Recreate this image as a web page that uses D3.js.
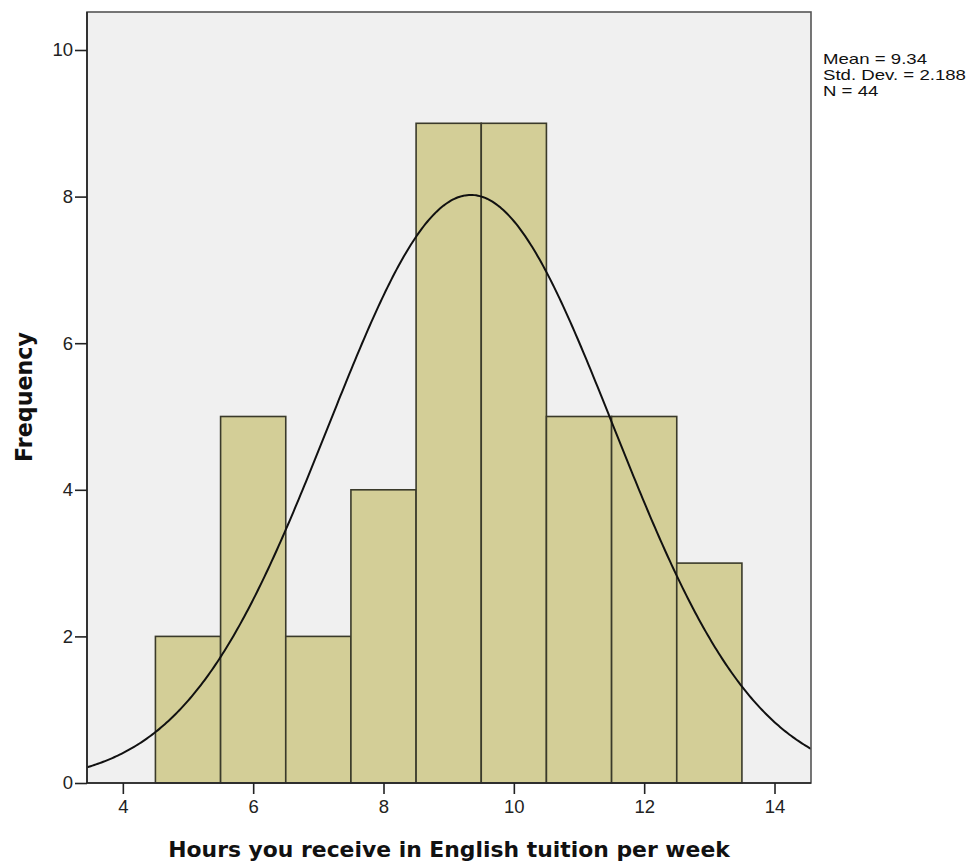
<!DOCTYPE html>
<html><head><meta charset="utf-8">
<script src="https://cdn.jsdelivr.net/npm/d3@7"></script>
<style>body{margin:0;background:#fff}svg{display:block}text{font-family:"Liberation Sans",Arial,sans-serif}</style>
</head><body>
<svg id="c" width="972" height="864"></svg>
<script>
const binStarts = [4.5,5.5,6.5,7.5,8.5,9.5,10.5,11.5,12.5];
const binWidth = 1;
const frequencies = [2,5,2,4,9,9,5,5,3];
const xTicks = [4,6,8,10,12,14];
const yTicks = [0,2,4,6,8,10];
const stats = {mean:9.34, sd:2.188, n:44};
const statLines = ["Mean = 9.34","Std. Dev. = 2.188","N = 44"];

const svg = d3.select("#c");
const L=87, R=811, T=12, B=783;
const x = d3.scaleLinear().domain([3.45,14.56]).range([L,R]);
const y = d3.scaleLinear().domain([0,10]).range([B,50]);

svg.append("rect").attr("x",L).attr("y",T).attr("width",R-L).attr("height",B-T).attr("fill","#f0f0f0");

svg.append("g").selectAll("rect").data(frequencies).join("rect")
  .attr("x",(d,i)=>x(binStarts[i])).attr("width",(d,i)=>x(binStarts[i]+binWidth)-x(binStarts[i]))
  .attr("y",d=>y(d)).attr("height",d=>y(0)-y(d))
  .attr("fill","#d3ce97").attr("stroke","#3a3a2a").attr("stroke-width",1.6);

// normal curve
svg.append("clipPath").attr("id","clip").append("rect").attr("x",L).attr("y",T).attr("width",R-L).attr("height",B-T);
const pdf = v => stats.n*binWidth/(stats.sd*Math.sqrt(2*Math.PI))*Math.exp(-0.5*((v-stats.mean)/stats.sd)**2);
const pts = d3.range(0,401).map(i=>{const v=3.45+(14.56-3.45)*i/400; return [v,pdf(v)];});
svg.append("path").attr("clip-path","url(#clip)").attr("d",d3.line().x(d=>x(d[0])).y(d=>y(d[1]))(pts))
  .attr("fill","none").attr("stroke","#111").attr("stroke-width",2);

// frame
svg.append("rect").attr("x",L).attr("y",T).attr("width",R-L).attr("height",B-T).attr("fill","none").attr("stroke","#555").attr("stroke-width",1.6);
svg.append("line").attr("x1",L).attr("x2",L).attr("y1",T).attr("y2",B).attr("stroke","#222").attr("stroke-width",1.6);
svg.append("line").attr("x1",L).attr("x2",R).attr("y1",B).attr("y2",B).attr("stroke","#222").attr("stroke-width",1.6);

// axes
const xa = svg.append("g").attr("transform",`translate(0,${B})`).call(d3.axisBottom(x).tickValues(xTicks).tickSize(11).tickPadding(3));
const ya = svg.append("g").attr("transform",`translate(${L},0)`).call(d3.axisLeft(y).tickValues(yTicks).tickSize(12).tickPadding(2));
[xa,ya].forEach(g=>{g.attr("font-size",null).attr("font-family",null);g.select(".domain").remove();g.selectAll("line").attr("stroke","#222").attr("stroke-width",1.6);
  g.selectAll("text").style("font-size","18.5px").attr("fill","#222").style("font-family","'Liberation Sans',Arial,sans-serif");});
xa.selectAll("text").attr("dy",null).attr("y",30);

function fit(sel, w){ const l = sel.node().getComputedTextLength(); const fs = parseFloat(sel.style("font-size")); sel.style("font-size",(fs*w/l)+"px"); }

const xt = svg.append("text").attr("x",449).attr("y",857).attr("text-anchor","middle").style("font-size","22px").attr("font-weight","bold").attr("fill","#111")
  .style("font-family","'DejaVu Sans',Verdana,sans-serif").text("Hours you receive in English tuition per week");
fit(xt,562);
const yt = svg.append("text").attr("transform","translate(32,397) rotate(-90)").attr("text-anchor","middle").style("font-size","22px").attr("font-weight","bold").attr("fill","#111")
  .style("font-family","'DejaVu Sans',Verdana,sans-serif").text("Frequency");
fit(yt,130);

const sg = svg.append("g");
const st = sg.selectAll("text").data(statLines).join("text")
  .attr("x",0).attr("y",(d,i)=>64+i*16).style("font-size","14px").attr("fill","#111").text(d=>d);
const l2 = st.nodes()[1].getComputedTextLength();
sg.attr("transform",`translate(823,0) scale(${143/l2},1)`);
</script>
</body></html>
